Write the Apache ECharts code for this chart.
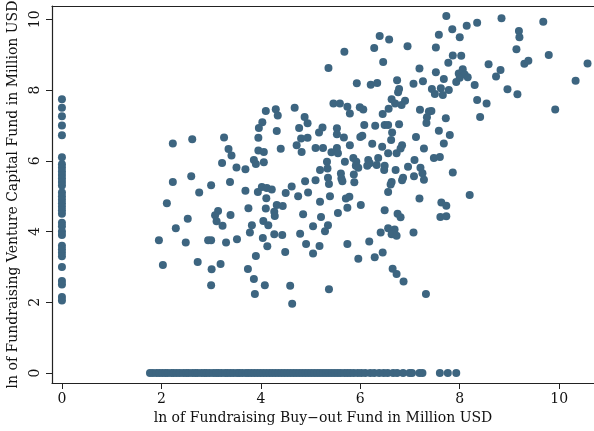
<!DOCTYPE html>
<html>
<head>
<meta charset="utf-8">
<title>Buy-out vs Venture Capital fundraising</title>
<style>
  html, body { margin: 0; padding: 0; background: #fff; }
  #chart { width: 594px; height: 431px; }
</style>
</head>
<body>
<div id="chart"></div>
<script src="https://cdn.jsdelivr.net/npm/echarts@6/dist/echarts.min.js"></script>
<script>
// ticks
var xTicks = [0, 2, 4, 6, 8, 10];
var yTicks = [0, 2, 4, 6, 8, 10];

// funds with no venture capital raised (y = 0), buy-out values
var zeroVenture = [1.77, 1.83, 1.9, 1.96, 2.02, 2.08, 2.13, 2.2, 2.25, 2.31, 2.37, 2.44, 2.5, 2.55,
  2.62, 2.68, 2.73, 2.8, 2.86, 2.91, 2.97, 3.04, 3.1, 3.15, 3.21, 3.28, 3.33, 3.39, 3.45, 3.52,
  3.57, 3.63, 3.7, 3.75, 3.81, 3.87, 3.93, 3.99, 4.05, 4.11, 4.17, 4.23, 4.29, 4.35, 4.41, 4.47,
  4.53, 4.59, 4.65, 4.71, 4.77, 4.83, 4.89, 4.95, 5.01, 5.07, 5.13, 5.19, 5.25, 5.31, 5.37, 5.43,
  5.49, 5.55, 5.61, 5.68, 5.74, 5.8, 5.87, 5.95, 6.02, 6.1, 6.2, 6.28, 6.38, 6.47, 6.55, 6.66,
  6.74, 6.86, 6.99, 7.04, 7.19, 7.25, 7.6, 7.76, 7.93];

// funds with no buy-out raised (x = 0), venture values
var zeroBuyout = [7.74, 7.5, 7.26, 7.0, 6.72, 6.1, 5.9, 5.8, 5.7, 5.6, 5.5, 5.4, 5.3, 5.1, 5.0,
  4.9, 4.8, 4.7, 4.6, 4.5, 4.25, 4.15, 4.0, 3.9, 3.6, 3.5, 3.4, 3.3, 3.0, 2.6, 2.5, 2.15, 2.05];

// [buy-out, venture]
var bothFunds = [
  [4.10,7.41],[4.30,7.46],[4.34,7.28],[4.68,7.50],[4.77,6.93],[4.03,7.09],[3.96,6.93],[4.32,6.84],
  [3.95,6.65],[2.23,6.49],[2.62,6.61],[3.26,6.66],[3.35,6.33],[3.41,6.15],[3.95,6.29],[4.06,6.25],
  [4.40,6.34],[4.72,6.44],[3.22,5.94],[3.51,5.81],[3.69,5.76],[3.86,6.02],[3.90,5.91],[4.06,5.96],
  [2.23,5.40],[2.60,5.56],[3.00,5.31],[2.76,5.10],[3.38,5.40],[3.69,5.15],[3.94,5.12],[4.02,5.26],
  [4.12,5.23],[4.22,5.19],[4.11,4.94],[4.50,5.09],[4.62,5.27],[4.75,5.00],[2.11,4.80],[3.75,4.66],
  [4.32,4.75],[4.44,4.72],[4.10,4.65],[4.27,4.56],[4.28,4.44],[3.14,4.58],[3.08,4.46],[3.11,4.29],
  [3.23,4.16],[2.53,4.36],[2.29,4.09],[3.39,4.47],[3.82,4.18],[4.05,4.30],[4.15,4.18],
  [1.95,3.75],[2.49,3.69],[2.94,3.75],[3.00,3.75],[3.30,3.69],[3.52,3.78],[3.78,3.97],[4.04,3.82],
  [4.13,3.58],[4.27,3.92],[4.43,3.90],[4.79,3.94],[2.03,3.05],[2.73,3.14],[3.01,2.93],[3.19,3.08],
  [3.00,2.48],[3.90,3.31],[3.74,2.94],[3.86,2.66],[4.08,2.48],[3.88,2.23],[4.49,3.42],[4.59,2.47],
  [4.63,1.96],
  [7.73,10.09],[7.58,9.56],[7.85,9.72],[6.39,9.53],[6.58,9.43],[6.95,9.24],[6.28,9.19],[5.68,9.08],
  [7.52,9.20],[6.46,8.79],[7.86,8.98],[7.77,8.77],[5.36,8.62],[7.19,8.61],[7.52,8.50],[7.68,8.31],
  [5.93,8.19],[6.21,8.15],[6.34,8.20],[6.74,8.28],[7.07,8.18],[7.26,8.25],[6.78,8.03],[6.76,7.94],
  [7.44,8.03],[7.62,8.05],[7.78,8.00],[7.50,7.89],[7.66,7.86],[6.63,7.74],[6.70,7.62],[6.90,7.70],
  [6.83,7.58],[6.57,7.47],[6.45,7.32],[5.46,7.62],[5.59,7.62],[5.74,7.53],[5.79,7.34],[5.99,7.51],
  [6.06,7.45],[7.20,7.44],[7.38,7.39],[7.43,7.41],[7.34,7.23],[7.33,7.07],[7.72,7.20],[4.88,7.24],
  [4.94,7.06],[5.24,6.94],[5.17,6.80],[5.53,6.92],[5.53,6.75],[5.67,6.66],[6.08,7.01],[6.30,6.99],
  [6.49,7.01],[6.56,7.01],[6.78,7.03],[6.64,6.80],[6.62,6.59],[7.12,6.67],[7.58,6.85],[7.80,6.73],
  [7.68,6.49],[4.81,6.63],[4.94,6.65],[6.00,6.67],[6.04,6.71],[5.79,6.44],[6.24,6.48],[6.44,6.40],
  [6.84,6.44],[7.28,6.35],[5.10,6.36],[5.25,6.36],[5.53,6.36],
  [4.82,6.25],[5.42,6.24],[5.55,6.21],[6.56,6.21],[6.73,6.21],[6.81,6.35],[7.48,6.08],[7.60,6.11],
  [5.33,5.97],[5.34,5.78],[5.19,5.74],[5.35,5.52],[5.37,5.34],[5.69,5.97],[5.86,6.08],[5.92,5.97],
  [5.91,5.86],[5.96,5.80],[6.16,6.02],[6.14,5.86],[6.19,5.93],[6.33,5.88],[6.36,6.08],[6.49,5.86],
  [6.48,5.74],[6.71,5.74],[6.96,5.83],[7.09,6.02],[7.21,5.80],[7.25,5.65],[7.28,5.46],[7.08,5.56],
  [6.86,5.52],[6.84,5.45],[6.63,5.40],[6.61,5.33],[6.56,5.12],[5.61,5.64],[5.62,5.50],[5.64,5.42],
  [5.87,5.61],[5.88,5.39],[4.89,5.42],[5.10,5.45],[4.95,5.10],[5.39,5.00],[5.19,4.84],[5.71,4.93],
  [5.78,4.98],[5.74,4.67],[6.01,4.75],[6.49,4.60],[7.19,4.93],[7.63,4.82],[7.73,4.73],[7.86,5.67],
  [4.85,4.49],[5.21,4.41],[5.55,4.52],[6.75,4.50],[6.81,4.40],[7.61,4.41],[7.73,4.43],[5.05,4.15],
  [5.35,4.18],[5.29,4.01],[4.91,3.65],[5.05,3.38],[5.18,3.59],[5.74,3.65],[6.41,3.97],[6.56,4.09],
  [6.69,4.06],[6.63,3.92],[6.73,3.88],[7.07,3.97],[6.18,3.72],[6.45,3.41],[6.29,3.27],[5.96,3.23],
  [6.65,2.95],[6.73,2.80],[6.87,2.59],[5.37,2.37],[7.32,2.23],
  [8.84,10.03],[9.68,9.93],[8.35,9.90],[8.14,9.82],[8.00,9.49],[9.19,9.67],[9.20,9.49],[9.14,9.15],
  [9.79,8.99],[8.03,8.97],[10.57,8.75],[8.58,8.73],[9.30,8.74],[9.38,8.83],[8.82,8.57],[8.73,8.38],
  [8.06,8.59],[7.98,8.47],[8.10,8.44],[8.16,8.36],[7.93,8.23],[8.00,8.35],[10.33,8.26],[8.30,8.14],
  [8.96,8.02],[9.16,7.88],[8.35,7.72],[8.54,7.62],[8.41,7.24],[9.92,7.45],[8.20,5.03]
];

var dotColor = '#3d6580';
var serif = '"DejaVu Serif", "Liberation Serif", serif';

var points = [];
zeroVenture.forEach(function (x) { points.push([x, 0]); });
zeroBuyout.forEach(function (y) { points.push([0, y]); });
bothFunds.forEach(function (p) { points.push(p); });

var chart = echarts.init(document.getElementById('chart'));
chart.setOption({
  animation: false,
  backgroundColor: '#fff',
  grid: { left: 52, right: 0, top: 6, bottom: 48, outerBoundsMode: 'none', containLabel: false },
  xAxis: [{
    type: 'value',
    min: -0.2,
    max: 10.7,
    name: 'ln of Fundraising Buy\u2212out Fund in Million USD',
    nameLocation: 'middle',
    nameGap: 18,
    nameTextStyle: { fontFamily: serif, fontSize: 14, color: '#111' },
    splitLine: { show: false },
    axisLine: { show: true, onZero: false, lineStyle: { color: '#222', width: 1.2 } },
    axisTick: { show: true, length: 6, customValues: xTicks, lineStyle: { color: '#222' } },
    axisLabel: { customValues: xTicks, margin: 9, fontFamily: serif, fontSize: 14, color: '#111' }
  }, {
    type: 'value',
    position: 'top',
    min: -0.2,
    max: 10.7,
    splitLine: { show: false },
    axisLine: { show: true, onZero: false, lineStyle: { color: '#222', width: 1.2 } },
    axisTick: { show: false },
    axisLabel: { show: false }
  }],
  yAxis: {
    type: 'value',
    min: -0.283,
    max: 10.376,
    name: 'ln of Fundraising Venture Capital Fund in Million USD',
    nameLocation: 'middle',
    nameGap: 28,
    nameTextStyle: { fontFamily: serif, fontSize: 14, color: '#111' },
    splitLine: { show: false },
    axisLine: { show: true, onZero: false, lineStyle: { color: '#222', width: 1.2 } },
    axisTick: { show: true, length: 6, customValues: yTicks, lineStyle: { color: '#222' } },
    axisLabel: { customValues: yTicks, rotate: 90, margin: 10, fontFamily: serif, fontSize: 14, color: '#111' }
  },
  series: [{
    type: 'scatter',
    data: points,
    symbol: 'circle',
    symbolSize: 8,
    itemStyle: { color: dotColor, opacity: 1 }
  }]
});
</script>
</body>
</html>
